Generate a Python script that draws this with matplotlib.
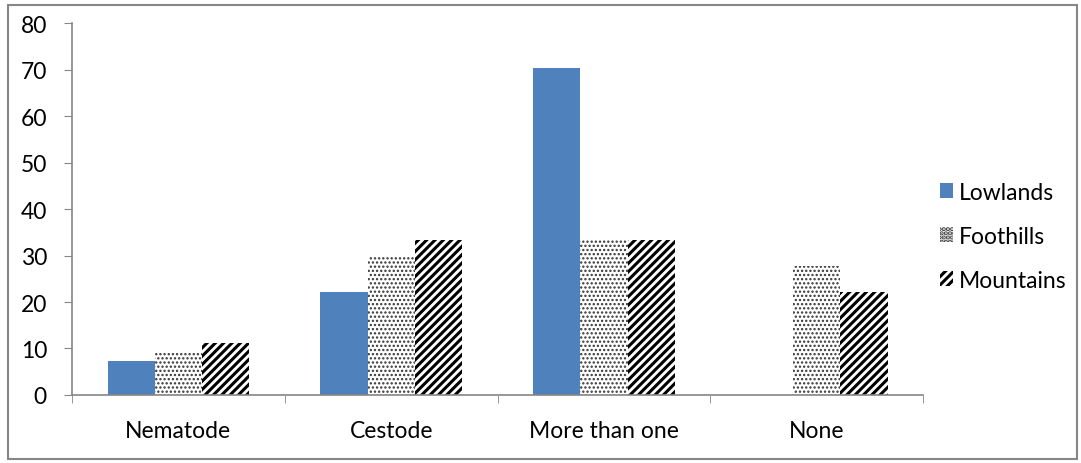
# Parasite type by region - grouped bar chart
import matplotlib.pyplot as plt
import numpy as np
from matplotlib.patches import Rectangle

plt.rcParams['font.family'] = ['Lato', 'DejaVu Sans']

# data
categories = ['Nematode', 'Cestode', 'More than one', 'None']
lowlands = [7.4, 22.2, 70.4, 0]
foothills = [9.3, 29.6, 33.3, 27.8]
mountains = [11.1, 33.3, 33.3, 22.2]

fig = plt.figure(figsize=(10.81, 4.64), dpi=100)
ax = fig.add_axes([0.0666, 0.1466, 0.7874, 0.8014])

x = np.arange(len(categories))
w = 0.222
grey = '#868686'

ax.bar(x - w, lowlands, w, color='#4F81BD', label='Lowlands', linewidth=0)
plt.rcParams['hatch.linewidth'] = 1.1
ax.bar(x, foothills, w, color='white', edgecolor='#333333', hatch='....',
       label='Foothills', linewidth=0)
plt.rcParams['hatch.linewidth'] = 2.2
ax.bar(x + w, mountains, w, color='white', edgecolor='black', hatch='////',
       label='Mountains', linewidth=0)

ax.set_xlim(-0.5, len(categories) - 0.5)
ax.set_ylim(0, 80)
ax.set_yticks(range(0, 81, 10))
ax.set_xticks(x)
ax.set_xticklabels(categories)
ax.set_xticks(np.arange(-0.5, len(categories)), minor=True)
ax.tick_params(axis='x', which='major', length=0, pad=18, labelsize=16.5)
ax.tick_params(axis='x', which='minor', length=6, color=grey, direction='out')
ax.tick_params(axis='y', length=6, color=grey, direction='out', pad=12, labelsize=16.5)

for s in ['top', 'right']:
    ax.spines[s].set_visible(False)
for s in ['left', 'bottom']:
    ax.spines[s].set_color(grey)
    ax.spines[s].set_linewidth(1.2)

ax.legend(loc='center left', bbox_to_anchor=(0.995, 0.427), frameon=False,
          fontsize=16.5, handlelength=0.6, handleheight=0.6, handletextpad=0.25,
          labelspacing=1.0)

# outer chart border
fig.patches.append(Rectangle((8 / 1081, 4 / 464), 1069 / 1081, 454 / 464,
                             transform=fig.transFigure, fill=False,
                             edgecolor=grey, linewidth=1.5))

fig.savefig('out.png', dpi=100)
